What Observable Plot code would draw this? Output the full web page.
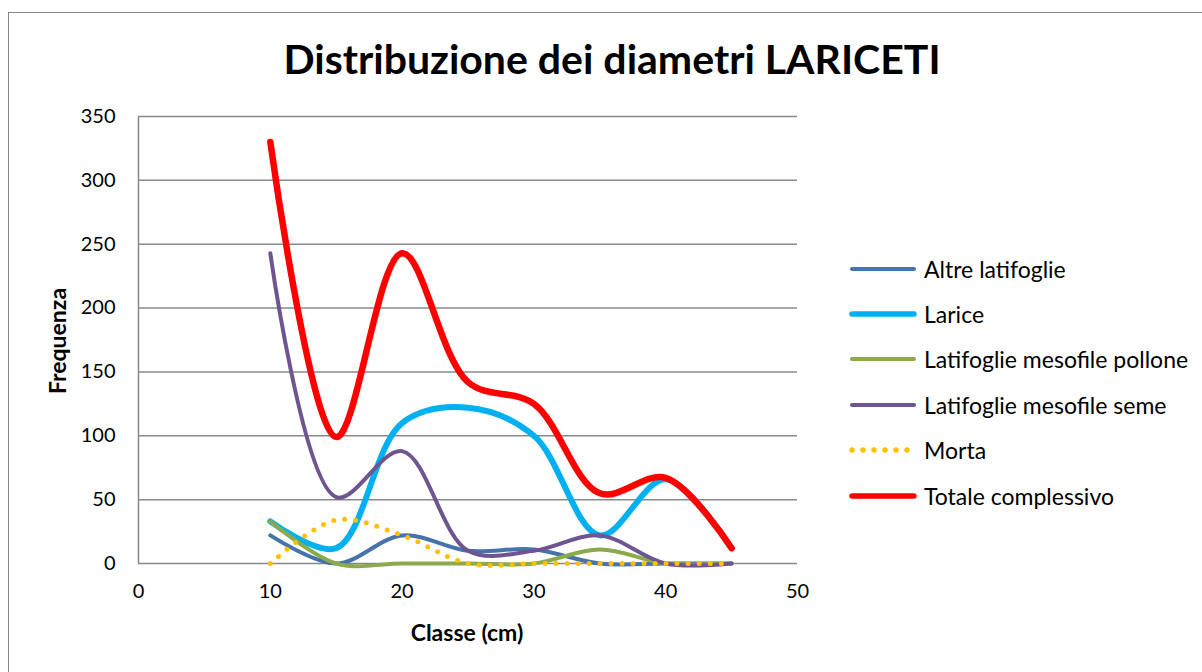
<!DOCTYPE html>
<html>
<head>
<meta charset="utf-8">
<script src="https://cdn.jsdelivr.net/npm/d3@7"></script>
<script src="https://cdn.jsdelivr.net/npm/@observablehq/plot@0.6"></script>
<style>
  body { margin: 0; background: #fff; font-family: Lato, "Open Sans", sans-serif; }
  #wrap { position: relative; width: 1202px; height: 672px; overflow: hidden; }
  #frame { position: absolute; left: 8px; top: 12px; width: 1400px; height: 900px;
           border-top: 1.5px solid #888; border-left: 1.5px solid #888; }
  #title { position: absolute; left: 0; width: 1224px; top: 34px; text-align: center;
           font-weight: bold; font-size: 41px; color: #000; }
  #chart { position: absolute; left: 0; top: 100px; }
  #xlabel { position: absolute; left: 317px; width: 300px; top: 618px; text-align: center;
            font-weight: bold; font-size: 23px; }
  #ylabel { position: absolute; left: 57px; top: 341px; transform: translate(-50%, -50%) rotate(-90deg);
            font-weight: bold; font-size: 23px; white-space: nowrap; }
  #legend { position: absolute; left: 848px; top: 246px; }
  .row { display: flex; align-items: center; height: 45.4px; font-size: 23px; }
  .row svg { margin-right: 4px; }
</style>
</head>
<body>
<div id="wrap">
  <div id="frame"></div>
  <div id="title">Distribuzione dei diametri LARICETI</div>
  <div id="chart"></div>
  <div id="ylabel">Frequenza</div>
  <div id="xlabel">Classe (cm)</div>
  <div id="legend"></div>
</div>
<script>
const classi = [10, 15, 20, 25, 30, 35, 40, 45];
const altreLatifoglie = [22, 0, 22, 10, 11, 0, 0, 0];
const larice = [33, 12, 110, 122, 100, 22, 66, 12];
const latifoglieMesofilePollone = [33, 0, 0, 0, 0, 11, 0, 0];
const latifoglieMesofileSeme = [243, 52, 88, 10, 10, 22, 0, 0];
const morta = [0, 34, 22, 0, 0, 0, 0, 0];
const totaleComplessivo = [330, 99, 243, 142, 125, 55, 67, 12];

const xTicks = [0, 10, 20, 30, 40, 50];
const yTicks = [0, 50, 100, 150, 200, 250, 300, 350];

const series = [
  {name: "Altre latifoglie", values: altreLatifoglie, color: "#4674AA", width: 4},
  {name: "Larice", values: larice, color: "#00B0F0", width: 6},
  {name: "Latifoglie mesofile pollone", values: latifoglieMesofilePollone, color: "#8BAA4C", width: 4},
  {name: "Latifoglie mesofile seme", values: latifoglieMesofileSeme, color: "#6F5590", width: 4},
  {name: "Morta", values: morta, color: "#FFC000", width: 5, dash: "0 11"},
  {name: "Totale complessivo", values: totaleComplessivo, color: "#FF0000", width: 6.5}
];

const lineMarks = series.map(s => Plot.line(
  classi.map((c, i) => ({x: c, y: s.values[i]})),
  {x: "x", y: "y", stroke: s.color, strokeWidth: s.width, curve: "catmull-rom",
   strokeLinecap: "round", strokeLinejoin: "round", strokeDasharray: s.dash || null}
));

const chart = Plot.plot({
  width: 1202,
  height: 572,
  marginTop: 16,
  marginBottom: 109,
  marginLeft: 138,
  marginRight: 405,
  style: {fontFamily: "Lato, 'Open Sans', sans-serif", fontSize: "20px", color: "#000", background: "transparent"},
  x: {domain: [0, 50]},
  y: {domain: [0, 350]},
  marks: [
    Plot.ruleY(yTicks, {stroke: "#888", strokeWidth: 1.5}),
    Plot.ruleX([0], {stroke: "#888", strokeWidth: 1.5}),
    Plot.axisX(xTicks, {tickSize: 0, tickPadding: 20, fontSize: 20, label: null}),
    Plot.axisY(yTicks, {tickSize: 0, tickPadding: 23, fontSize: 20, label: null}),
    ...lineMarks
  ]
});
document.getElementById("chart").appendChild(chart);

const legend = d3.select("#legend");
series.forEach(s => {
  const row = legend.append("div").attr("class", "row");
  const svg = row.append("svg").attr("width", 72).attr("height", 12);
  svg.append("line")
    .attr("x1", 4).attr("x2", s.dash ? 60 : 66).attr("y1", 6).attr("y2", 6)
    .attr("stroke", s.color).attr("stroke-width", s.width <= 4 ? 4 : 5.5)
    .attr("stroke-linecap", "round")
    .attr("stroke-dasharray", s.dash || null);
  row.append("span").text(s.name);
});
</script>
</body>
</html>
